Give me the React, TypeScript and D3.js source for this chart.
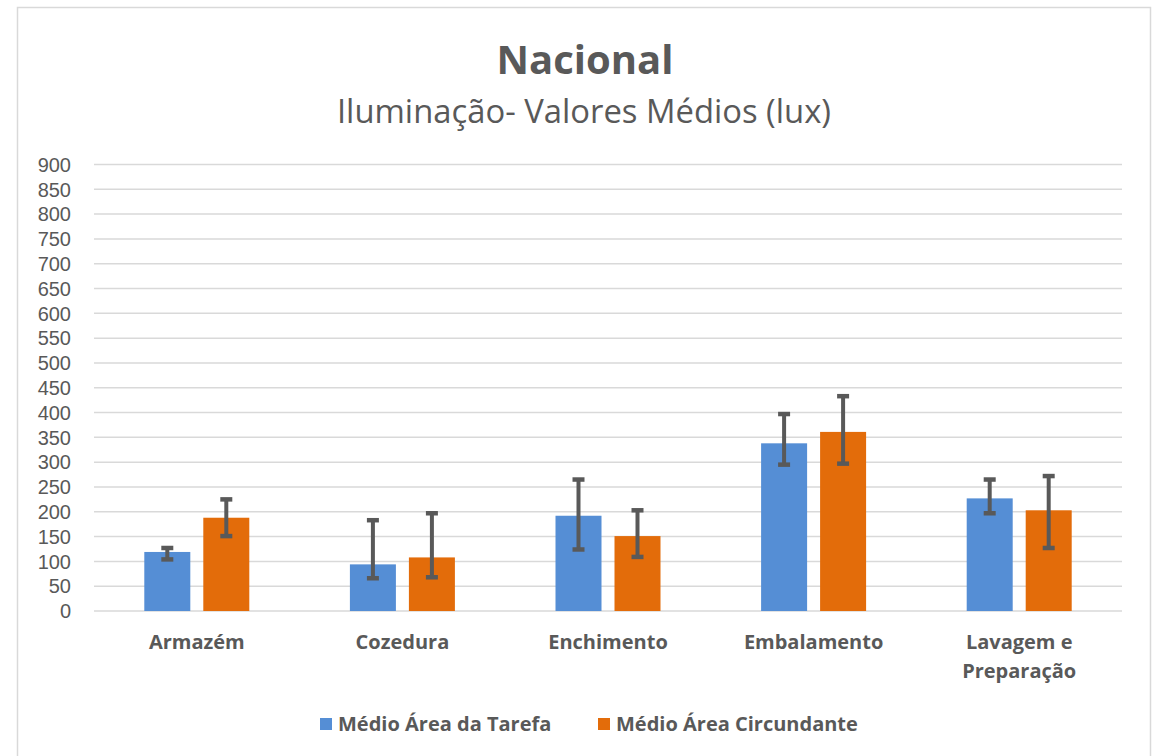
import React from "react";
import * as d3 from "d3";

const categories = ["Armazém", "Cozedura", "Enchimento", "Embalamento", "Lavagem e Preparação"];
const seriesNames = ["Médio Área da Tarefa", "Médio Área Circundante"];
const tarefa = [119, 94, 192, 338, 227];
const tarefaLow = [104, 66, 124, 295, 197];
const tarefaHigh = [127, 183, 265, 397, 265];
const circundante = [188, 108, 151, 361, 203];
const circundanteLow = [151, 68, 109, 297, 127];
const circundanteHigh = [225, 197, 203, 433, 272];
const yTicks = [0, 50, 100, 150, 200, 250, 300, 350, 400, 450, 500, 550, 600, 650, 700, 750, 800, 850, 900];
const colors = ["#558ED5", "#E36C0A"];

const W = 1153;
const H = 756;
const FONT = "'Open Sans', sans-serif";
const TICK_FONT = "'Liberation Sans', Arial, sans-serif";
const TEXT = "#595959";

export default function App() {
  const left = 94, right = 1122, top = 164.5, bottom = 611;
  const y = d3.scaleLinear().domain([0, 900]).range([bottom, top]);
  const x0 = d3.scaleBand<string>().domain(categories).range([left, right]).padding(0);
  const x1 = d3.scaleBand<number>().domain([0, 1]).range([0, x0.bandwidth()]).paddingInner(0.2203).paddingOuter(0.8526);

  const series = [
    { values: tarefa, low: tarefaLow, high: tarefaHigh },
    { values: circundante, low: circundanteLow, high: circundanteHigh },
  ];

  const capW = 12;

  return (
    <svg width={W} height={H} style={{ position: "absolute", left: 0, top: 0, background: "#fff" }} fontFamily={FONT}>
      <rect x={17.5} y={7.5} width={1133} height={H + 10} fill="#fff" stroke="#d9d9d9" strokeWidth={1.5} />
      <text x={585} y={74} textAnchor="middle" fontSize={40} fontWeight={700} fill={TEXT}>Nacional</text>
      <text x={584} y={123} textAnchor="middle" fontSize={32.8} fill={TEXT}>Iluminação- Valores Médios (lux)</text>

      {yTicks.map((t) => (
        <g key={t}>
          <line x1={left} x2={right} y1={y(t)} y2={y(t)} stroke="#d9d9d9" strokeWidth={1.5} />
          <text x={71} y={y(t)} dy="0.36em" textAnchor="end" fontSize={20} fontFamily={TICK_FONT} fill={TEXT}>{t}</text>
        </g>
      ))}

      {categories.map((c, i) => (
        <g key={c}>
          {series.map((s, j) => {
            const bx = (x0(c) as number) + (x1(j) as number);
            const bw = x1.bandwidth();
            const cx = bx + bw / 2;
            return (
              <g key={j}>
                <rect x={bx} y={y(s.values[i])} width={bw} height={y(0) - y(s.values[i])} fill={colors[j]} />
                <line x1={cx} x2={cx} y1={y(s.low[i])} y2={y(s.high[i])} stroke="#595959" strokeWidth={4} />
                <line x1={cx - capW / 2} x2={cx + capW / 2} y1={y(s.low[i])} y2={y(s.low[i])} stroke="#595959" strokeWidth={4.5} />
                <line x1={cx - capW / 2} x2={cx + capW / 2} y1={y(s.high[i])} y2={y(s.high[i])} stroke="#595959" strokeWidth={4.5} />
              </g>
            );
          })}
          {(() => {
            const cx = (x0(c) as number) + x0.bandwidth() / 2;
            const words = c === "Lavagem e Preparação" ? ["Lavagem e", "Preparação"] : [c];
            return words.map((w, k) => (
              <text key={k} x={cx} y={649 + k * 29} textAnchor="middle" fontSize={20} fontWeight={700} fill={TEXT}>{w}</text>
            ));
          })()}
        </g>
      ))}

      {seriesNames.map((n, j) => {
        const lx = j === 0 ? 320 : 598;
        return (
          <g key={n}>
            <rect x={lx} y={718} width={12} height={12} fill={colors[j]} />
            <text x={lx + 18} y={724} dy="0.36em" fontSize={20} fontWeight={700} fill={TEXT}>{n}</text>
          </g>
        );
      })}
    </svg>
  );
}
